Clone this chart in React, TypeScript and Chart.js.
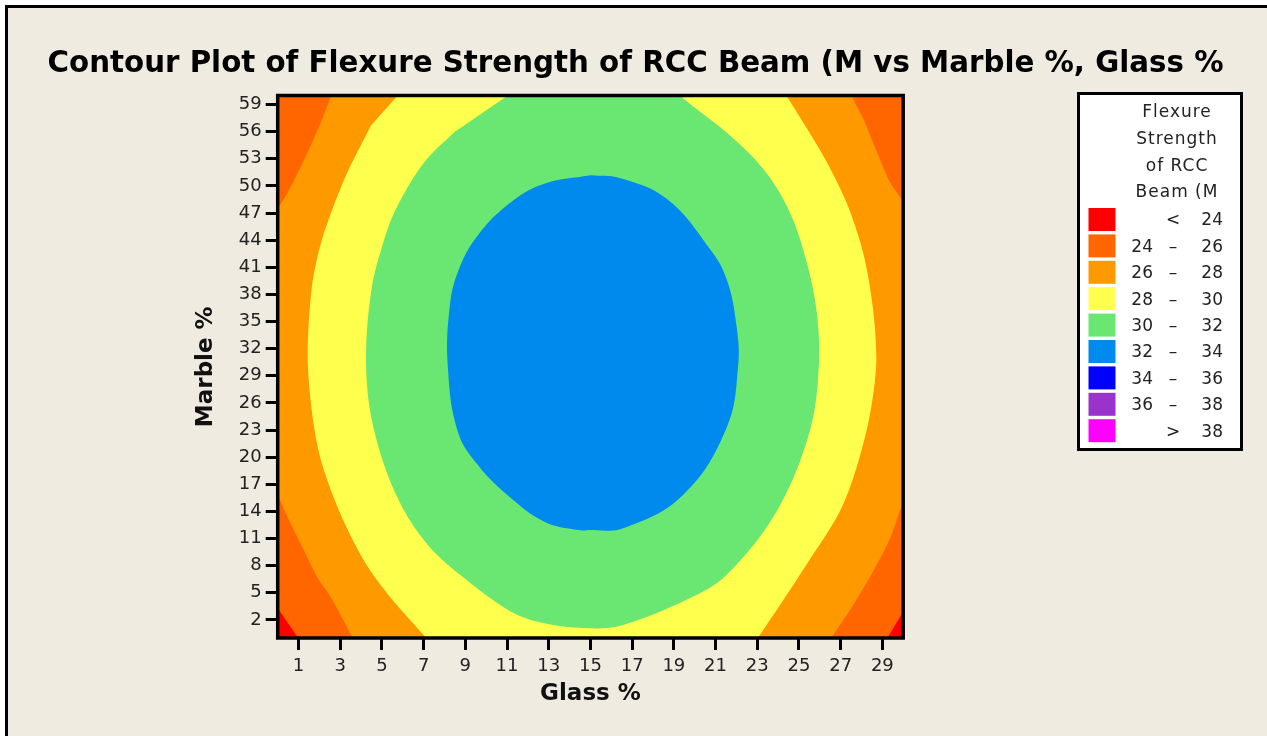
import React, { useEffect, useRef } from "react";
import { Chart, registerables } from "chart.js";

Chart.register(...registerables);

// ---------- text ----------
const chartTitle = "Contour Plot of Flexure Strength of RCC Beam (M vs Marble %, Glass %";
const xAxisTitle = "Glass %";
const yAxisTitle = "Marble %";

// ---------- axes ----------
const xRange = [0, 30];
const yRange = [0, 60];
const xTickValues = [1, 3, 5, 7, 9, 11, 13, 15, 17, 19, 21, 23, 25, 27, 29];
const yTickValues = [2, 5, 8, 11, 14, 17, 20, 23, 26, 29, 32, 35, 38, 41, 44, 47, 50, 53, 56, 59];

// ---------- legend ----------
const legendTitleLines = ["Flexure", "Strength", "of RCC", "Beam (M"];
const legendLow = ["", "24", "26", "28", "30", "32", "34", "36", ""];
const legendSep = ["<", "–", "–", "–", "–", "–", "–", "–", ">"];
const legendHigh = ["24", "26", "28", "30", "32", "34", "36", "38", "38"];
const legendColors = ["#FF0000", "#FF6600", "#FF9900", "#FFFF4D", "#6AE673", "#008AEE", "#0000FF", "#9933CC", "#FF00FF"];

// ---------- contour boundaries (Glass %, Marble %) ----------
// region above 24 (outside it the surface is < 24)
const contour24: [number, number][] = [
  [-0.6, 5.4], [0, 3.3], [0.98, 0], [1.3, -1], [28.95, -1], [29.24, 0], [30, 2.91], [30.6, 5.2], [30.6, 61.5], [-0.6, 61.5],
];
// region above 26
const contour26: [number, number][] = [
  [-0.6, 44.5], [0, 47.46], [0.49, 49.3], [1.29, 53.0], [2.01, 56.7], [2.57, 60], [2.8, 61.5], [27.3, 61.5], [27.51, 60],
  [28.09, 57.4], [28.73, 53.8], [29.37, 50.4], [30, 48.2], [30.6, 45.5], [30.6, 18], [30, 15.08], [29.37, 11.03],
  [28.55, 7.33], [27.6, 3.65], [26.55, 0], [26.3, -1], [3.85, -1], [3.6, 0], [2.57, 4.39], [1.93, 6.6], [1.29, 9.55],
  [0.65, 12.5], [0, 15.82], [-0.6, 19],
];
// region above 28
const contour28: [number, number][] = [
  [5.76, 60], [6.2, 61.5], [24.0, 61.5], [24.4, 60], [26.15, 53.4], [27.27, 48.23], [28.07, 42.7], [28.55, 36.43],
  [28.7, 30.0], [28.23, 22.82], [27.11, 14.71], [25.35, 8.08], [23.03, 0], [22.7, -1], [7.45, -1], [7.12, 0],
  [5.44, 4.39], [4.17, 8.44], [2.89, 14.35], [1.93, 20.98], [1.45, 30.0], [1.61, 38.27], [2.09, 43.8], [3.21, 50.81],
  [4.48, 56.71],
];
// region above 30
const contour30: [number, number][] = [
  [11.04, 60], [11.7, 61.5], [18.7, 61.5], [19.28, 60], [21.68, 55.61], [23.27, 51.92], [24.4, 47.86], [25.19, 43.06],
  [25.83, 36.43], [25.95, 30.0], [25.51, 22.82], [23.92, 13.97], [21.52, 6.97], [19.76, 4.39], [16.56, 1.44],
  [15.0, 1.07], [12.79, 1.63], [11.2, 2.91], [8.96, 6.6], [7.2, 10.29], [5.76, 15.45], [4.64, 22.82], [4.24, 30.0],
  [4.48, 38.27], [5.12, 44.17], [5.76, 47.86], [7.04, 52.65], [8.48, 55.97],
];
// region above 32
const contour32: [number, number][] = [
  [15.0, 51.18], [16.4, 50.88], [18.64, 48.6], [20.72, 43.06], [21.52, 39.75], [22.0, 34.59], [22.08, 30.0],
  [21.52, 23.2], [19.44, 15.82], [16.56, 12.13], [15.0, 11.95], [14.39, 11.95], [12.79, 12.87], [11.2, 15.45],
  [9.6, 19.14], [8.64, 22.82], [8.16, 30.0], [8.24, 36.43], [8.64, 40.49], [9.6, 44.55], [11.2, 48.23], [12.79, 50.25],
  [15.0, 51.18],
];

const W = 1267;
const H = 736;
const FONT = "'DejaVu Sans', Verdana, sans-serif";
const BEIGE = "#EFEBE1";

export default function App() {
  const ref = useRef<HTMLCanvasElement>(null);

  useEffect(() => {
    const canvas = ref.current;
    if (!canvas) return;

    const layers = [
      { label: "24 – 26", pts: contour24, color: legendColors[1], order: 4, tension: 0 },
      { label: "26 – 28", pts: contour26, color: legendColors[2], order: 3, tension: 0.3 },
      { label: "28 – 30", pts: contour28, color: legendColors[3], order: 2, tension: 0.3 },
      { label: "30 – 32", pts: contour30, color: legendColors[4], order: 1, tension: 0.35 },
      { label: "32 – 34", pts: contour32, color: legendColors[5], order: 0, tension: 0.4 },
    ];

    const decor = {
      id: "decor",
      beforeDraw(chart: any) {
        const ctx = chart.ctx;
        ctx.save();
        ctx.fillStyle = "#ffffff";
        ctx.fillRect(0, 0, W, H);
        ctx.fillStyle = BEIGE;
        ctx.fillRect(6, 6, W, H);
        ctx.fillStyle = "#000";
        ctx.fillRect(5, 5, W, 3);
        ctx.fillRect(5, 5, 3, H);
        ctx.restore();
      },
      beforeDatasetsDraw(chart: any) {
        const { left, top, width, height } = chart.chartArea;
        const ctx = chart.ctx;
        ctx.save();
        ctx.fillStyle = legendColors[0];
        ctx.fillRect(left, top, width, height);
        ctx.restore();
      },
      afterDatasetsDraw(chart: any) {
        const { left, top, width, height } = chart.chartArea;
        const ctx = chart.ctx;
        ctx.save();
        ctx.strokeStyle = "#000";
        ctx.lineWidth = 3.5;
        ctx.strokeRect(left, top, width, height);
        ctx.restore();
      },
      afterDraw(chart: any) {
        const ctx = chart.ctx;
        ctx.save();
        // title
        ctx.fillStyle = "#000";
        ctx.font = `bold 29.3px ${FONT}`;
        ctx.textAlign = "center";
        ctx.textBaseline = "alphabetic";
        ctx.fillText(chartTitle, 635.5, 71.5);

        // legend box
        ctx.fillStyle = "#ffffff";
        ctx.fillRect(1079, 94, 162, 355);
        ctx.strokeStyle = "#000";
        ctx.lineWidth = 3;
        ctx.strokeRect(1078.5, 93.5, 163, 356);

        ctx.fillStyle = "#222";
        ctx.font = `17px ${FONT}`;
        ctx.textBaseline = "middle";
        ctx.textAlign = "center";
        try { (ctx as any).letterSpacing = "1px"; } catch (e) {}
        legendTitleLines.forEach((t, i) => ctx.fillText(t, 1177, 112.5 + i * 26.8));
        try { (ctx as any).letterSpacing = "0px"; } catch (e) {}

        for (let i = 0; i < legendColors.length; i++) {
          const cy = 221 + i * 26.4;
          ctx.fillStyle = legendColors[i];
          ctx.fillRect(1088.5, cy - 13, 27, 23);
          ctx.fillStyle = "#222";
          ctx.textAlign = "right";
          if (legendLow[i]) ctx.fillText(legendLow[i], 1153, cy);
          ctx.fillText(legendHigh[i], 1223, cy);
          ctx.textAlign = "center";
          ctx.fillText(legendSep[i], 1173, cy);
        }
        ctx.restore();
      },
    };

    const chart = new Chart(canvas, {
      type: "line",
      data: {
        datasets: layers.map((l) => ({
          label: l.label,
          data: l.pts.map(([x, y]) => ({ x, y })),
          backgroundColor: l.color,
          borderColor: l.color,
          borderWidth: 0,
          showLine: false,
          pointRadius: 0,
          tension: l.tension,
          capBezierPoints: false,
          fill: "shape",
          order: l.order,
          clip: 0,
        })),
      },
      options: {
        responsive: false,
        animation: false,
        devicePixelRatio: 1,
        events: [],
        layout: { padding: { left: 180, right: W - 903.2, top: 95.5, bottom: 18 } },
        plugins: {
          legend: { display: false },
          title: { display: false },
          tooltip: { enabled: false },
        },
        scales: {
          x: {
            type: "linear",
            min: xRange[0],
            max: xRange[1],
            afterBuildTicks: (s: any) => {
              s.ticks = xTickValues.map((v) => ({ value: v }));
            },
            afterFit: (s: any) => {
              s.height = 80;
            },
            grid: { drawOnChartArea: false, drawTicks: true, tickLength: 12, tickWidth: 3, tickColor: "#000" },
            border: { display: false },
            ticks: { color: "#222", font: { family: FONT, size: 18 }, padding: 6, maxRotation: 0, autoSkip: false },
            title: { display: true, text: xAxisTitle, color: "#111", font: { family: FONT, size: 23, weight: "bold" }, padding: { top: 0, bottom: 10 } },
          },
          y: {
            type: "linear",
            min: yRange[0],
            max: yRange[1],
            afterBuildTicks: (s: any) => {
              s.ticks = yTickValues.map((v) => ({ value: v }));
            },
            afterFit: (s: any) => {
              s.width = 97.7;
            },
            grid: { drawOnChartArea: false, drawTicks: true, tickLength: 12, tickWidth: 3, tickColor: "#000" },
            border: { display: false },
            ticks: { color: "#222", font: { family: FONT, size: 18 }, padding: 4, autoSkip: false },
            title: { display: true, text: yAxisTitle, color: "#111", font: { family: FONT, size: 23, weight: "bold" }, padding: { top: 12.2, bottom: 0 } },
          },
        },
      },
      plugins: [decor],
    } as any);

    return () => chart.destroy();
  }, []);

  return (
    <div style={{ position: "absolute", left: 0, top: 0, width: W, height: H }}>
      <canvas ref={ref} width={W} height={H} style={{ display: "block" }} />
    </div>
  );
}
